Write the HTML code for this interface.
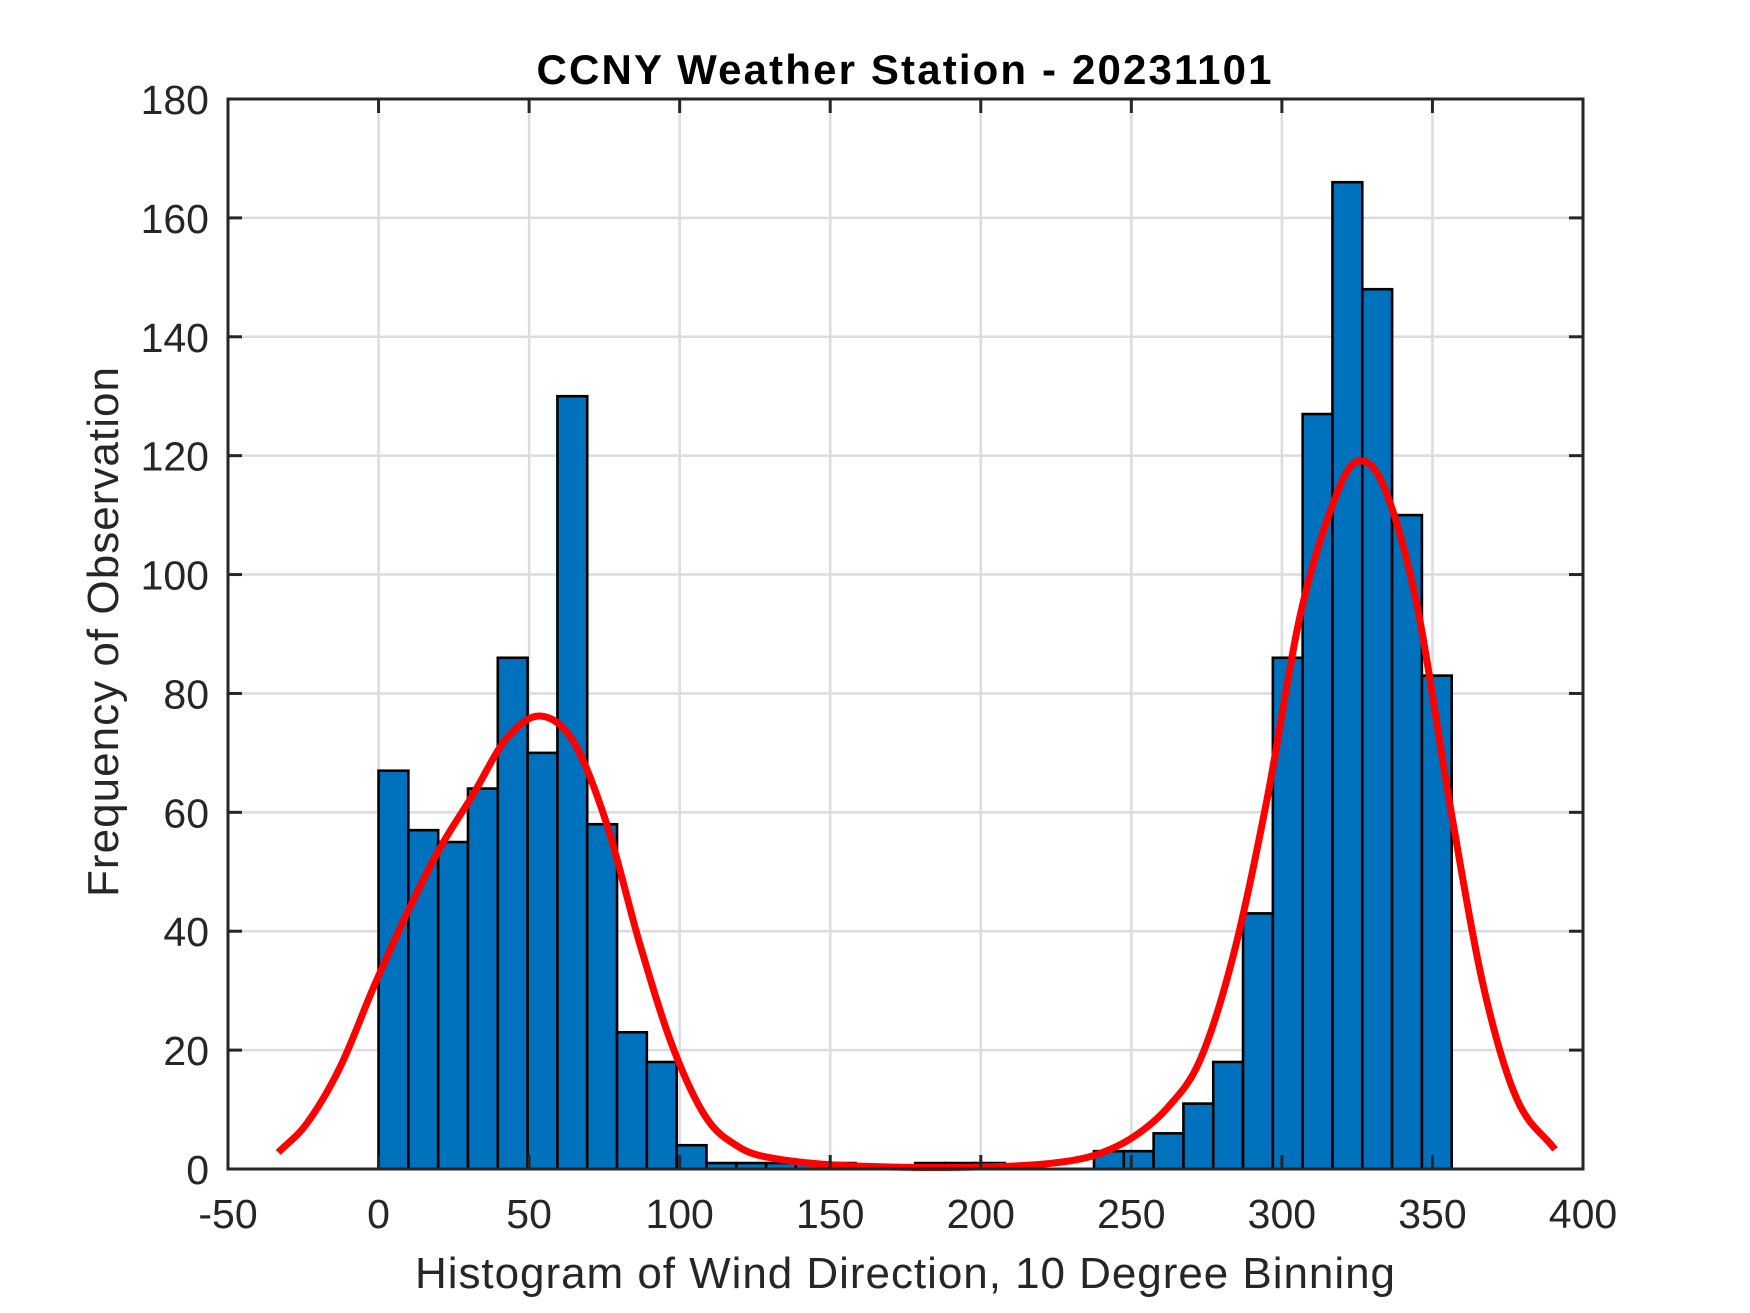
<!DOCTYPE html>
<html><head><meta charset="utf-8"><style>
html,body{margin:0;padding:0;background:#fff;}
svg{display:block;font-family:"Liberation Sans",Arial,sans-serif;}
</style></head><body>
<svg id="chart" width="1750" height="1313" viewBox="0 0 1750 1313" xmlns="http://www.w3.org/2000/svg">
<rect x="0" y="0" width="1750" height="1313" fill="#fff"/>
<g id="grid"></g>
<g id="bars"></g>
<g id="fit"></g>
<g id="axes"></g>
<text x="904" y="84" text-anchor="middle" font-size="42" font-weight="bold" fill="#000" textLength="735">CCNY Weather Station - 20231101</text>
<text x="905" y="1288" text-anchor="middle" font-size="44" fill="#262626" textLength="980">Histogram of Wind Direction, 10 Degree Binning</text>
<text transform="translate(118,632) rotate(-90)" text-anchor="middle" font-size="44" fill="#262626" textLength="530">Frequency of Observation</text>
</svg>
<script>
const binWidth = 9.9;
const binStarts = [0,9.9,19.8,29.7,39.6,49.5,59.4,69.3,79.2,89.1,99,108.9,118.8,128.7,138.6,148.5,158.4,168.3,178.2,188.1,198,207.9,217.8,227.7,237.6,247.5,257.4,267.3,277.2,287.1,297,306.9,316.8,326.7,336.6,346.5];
const binCounts = [67,57,55,64,86,70,130,58,23,18,4,1,1,1,1,1,0,0,1,1,1,0,0,0,3,3,6,11,18,43,86,127,166,148,110,83];
const fitX = [-33.3,-23.9,-12.8,-1.7,9.3,20.4,31.4,42.6,53.6,64.6,75.8,86.8,97.8,109,120,130,150,175,195,215,230,239.6,250.7,261.8,272.8,283.9,295,306,317,324.8,333.7,344.8,355.9,367,378,390.7];
const fitY = [2.8,7.6,17.1,30.5,42.9,54,63,72.5,76.2,72,58,37.8,20.4,8.5,3.6,1.9,0.7,0.3,0.3,0.6,1.4,2.6,5.4,10.2,18.3,36,62,93,112,119,115,95,61,30.6,11.8,3.3];
const xTicks = [-50,0,50,100,150,200,250,300,350,400];
const yTicks = [0,20,40,60,80,100,120,140,160,180];

const L=228,R=1583,T=99,B=1169;
const xMin=-50,xMax=400,yMin=0,yMax=180;
const sx = v => L + (v-xMin)/(xMax-xMin)*(R-L);
const sy = v => B - (v-yMin)/(yMax-yMin)*(B-T);
const NS='http://www.w3.org/2000/svg';
function mk(tag, parent, attrs){const e=document.createElementNS(NS,tag);for(const k in attrs)e.setAttribute(k,attrs[k]);parent.appendChild(e);return e;}

const grid=document.getElementById('grid');
xTicks.forEach(t=>{
  const l=mk('line',grid,{x1:sx(t),x2:sx(t),y1:T,y2:B,stroke:'#dcdcdc','stroke-width':2.5});
  
  
});
yTicks.forEach(t=>{
  const l=mk('line',grid,{x1:L,x2:R,y1:sy(t),y2:sy(t),stroke:'#dcdcdc','stroke-width':2.5});
  
  
});

const bars=document.getElementById('bars');
binStarts.forEach((s,i)=>{
  const c=binCounts[i];
  const x0=sx(s),x1=sx(s+binWidth);
  const r=mk('rect',bars,{x:x0,y:sy(c),width:x1-x0,height:sy(0)-sy(c),fill:'#0072BD',stroke:'#000','stroke-width':2.6});
  
  
});

// Hermite spline with slopes computed in x-space (function-style, avoids wobbles)
const fit=document.getElementById('fit');
const n=fitX.length;
const slope=[];
for(let i=0;i<n;i++){
  const a=Math.max(0,i-1),b=Math.min(n-1,i+1);
  slope.push((fitY[b]-fitY[a])/(fitX[b]-fitX[a]));
}
let d='M'+sx(fitX[0]).toFixed(1)+','+sy(fitY[0]).toFixed(1);
for(let i=0;i<n-1;i++){
  const h=fitX[i+1]-fitX[i];
  const c1x=fitX[i]+h/3, c1y=fitY[i]+slope[i]*h/3;
  const c2x=fitX[i+1]-h/3, c2y=fitY[i+1]-slope[i+1]*h/3;
  d+=' C'+sx(c1x).toFixed(1)+','+sy(c1y).toFixed(1)+' '+sx(c2x).toFixed(1)+','+sy(c2y).toFixed(1)+' '+sx(fitX[i+1]).toFixed(1)+','+sy(fitY[i+1]).toFixed(1);
}
const pl=mk('path',fit,{d:d,fill:'none',stroke:'#ff0000','stroke-width':7,'stroke-linejoin':'round','stroke-linecap':'butt'});



const axes=document.getElementById('axes');
const box=mk('rect',axes,{x:L,y:T,width:R-L,height:B-T,fill:'none',stroke:'#262626','stroke-width':3});


xTicks.forEach(t=>{
  mk('line',axes,{x1:sx(t),x2:sx(t),y1:B,y2:B-14,stroke:'#262626','stroke-width':3});
  mk('line',axes,{x1:sx(t),x2:sx(t),y1:T,y2:T+14,stroke:'#262626','stroke-width':3});
  const tx=mk('text',axes,{x:sx(t),y:1228,'text-anchor':'middle','font-size':41,fill:'#262626'});
  tx.textContent=String(t);
  
  
});
yTicks.forEach(t=>{
  mk('line',axes,{x1:L,x2:L+14,y1:sy(t),y2:sy(t),stroke:'#262626','stroke-width':3});
  mk('line',axes,{x1:R,x2:R-14,y1:sy(t),y2:sy(t),stroke:'#262626','stroke-width':3});
  const tx=mk('text',axes,{x:209,y:sy(t)+15,'text-anchor':'end','font-size':41,fill:'#262626'});
  tx.textContent=String(t);
  
  
});
</script>
</body></html>
